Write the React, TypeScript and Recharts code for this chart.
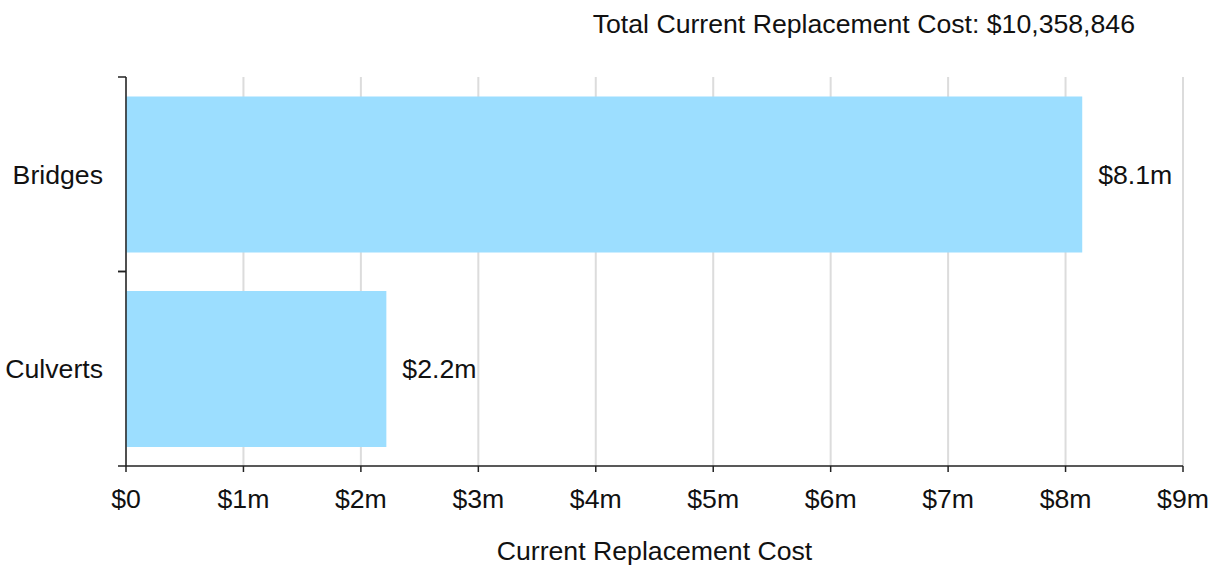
import React from 'react';
import { BarChart, Bar, XAxis, YAxis, CartesianGrid, LabelList } from 'recharts';

const categories = ['Bridges', 'Culverts'];
const costs = [8142000, 2216846];
const xTicks = [0, 1000000, 2000000, 3000000, 4000000, 5000000, 6000000, 7000000, 8000000, 9000000];
const totalLabel = 'Total Current Replacement Cost: $10,358,846';
const xTitle = 'Current Replacement Cost';

const data = categories.map((name, i) => ({ name, cost: costs[i] }));

const W = 1217;
const H = 567;
const FONT = '"Liberation Sans", Arial, sans-serif';
const FS = 26.67;
const PLOT_TOP = 77;
const PLOT_BOTTOM = 466;
const band = (PLOT_BOTTOM - PLOT_TOP) / categories.length;

const money = (v: number) => (v === 0 ? '$0' : `$${v / 1e6}m`);
const shortMoney = (v: number) => `$${(v / 1e6).toFixed(1)}m`;

// category label at band centre, tick marks on band edges
const CatTick = (props: any) => {
  const { y, payload } = props;
  return (
    <g>
      <line x1={118} x2={126} y1={y - band / 2} y2={y - band / 2} stroke="#222" strokeWidth={1.5} />
      <line x1={118} x2={126} y1={y + band / 2} y2={y + band / 2} stroke="#222" strokeWidth={1.5} />
      <text x={103} y={y} dy="0.35em" textAnchor="end" fontSize={FS} fill="#111" fontFamily={FONT}>
        {payload.value}
      </text>
    </g>
  );
};

// axis title below the tick labels
const XTitle = (props: any) => {
  const vb = props.viewBox || {};
  return (
    <text
      x={vb.x + vb.width / 2}
      y={vb.y + vb.height + 25}
      dy="0.35em"
      textAnchor="middle"
      fontSize={FS}
      fill="#111"
      fontFamily={FONT}
    >
      {xTitle}
    </text>
  );
};

export default function App() {
  return (
    <div
      style={{
        position: 'absolute',
        left: 0,
        top: 0,
        width: W,
        height: H,
        overflow: 'hidden',
        background: '#fff',
        fontFamily: FONT,
      }}
    >
      <BarChart
        width={W}
        height={H}
        data={data}
        layout="vertical"
        margin={{ top: PLOT_TOP, right: 34, bottom: 41, left: 0 }}
        barCategoryGap="10%"
      >
        <CartesianGrid horizontal={false} stroke="#dcdcdc" strokeWidth={2} />
        <XAxis
          type="number"
          domain={[0, 9000000]}
          ticks={xTicks}
          tickFormatter={money}
          height={60}
          interval={0}
          tickSize={6}
          tickMargin={17}
          stroke="#222"
          strokeWidth={1.5}
          tick={{ fontSize: FS, fill: '#111', fontFamily: FONT }}
          label={<XTitle />}
        />
        <YAxis
          type="category"
          dataKey="name"
          width={126}
          tickLine={false}
          stroke="#222"
          strokeWidth={1.5}
          tick={<CatTick />}
        />
        <Bar dataKey="cost" fill="#9cdeff" isAnimationActive={false}>
          <LabelList
            dataKey="cost"
            position="right"
            offset={16}
            formatter={(v: any) => shortMoney(Number(v))}
            style={{ fontSize: FS, fill: '#111', fontFamily: FONT }}
          />
        </Bar>
      </BarChart>
      <div style={{ position: 'absolute', right: W - 1135, top: 9, fontSize: FS, color: '#111', whiteSpace: 'nowrap' }}>
        {totalLabel}
      </div>
    </div>
  );
}
